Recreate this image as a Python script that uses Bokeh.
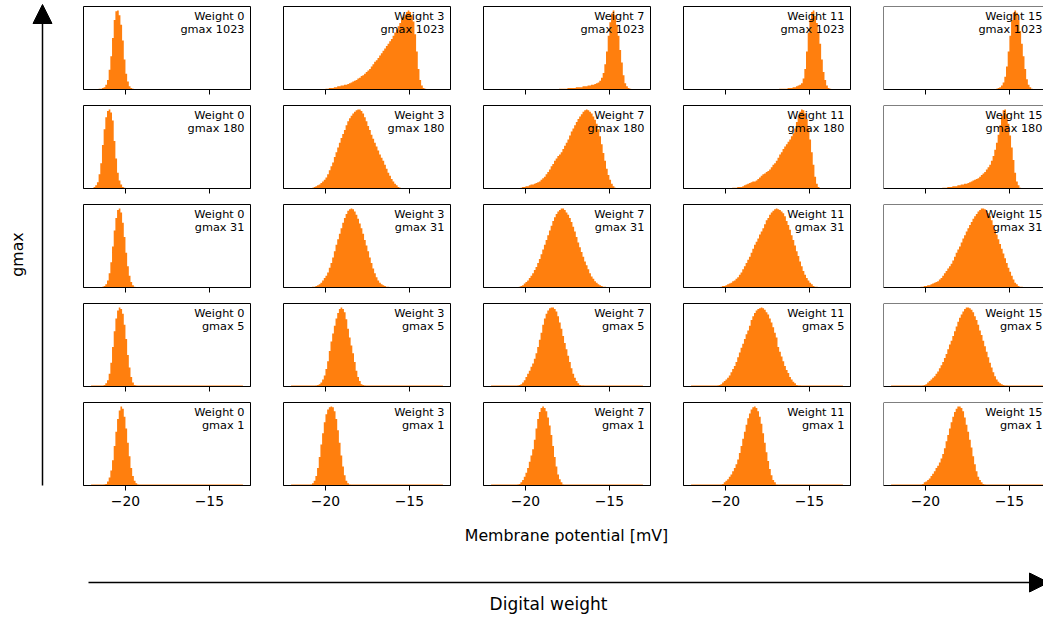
import math

from bokeh.plotting import figure
from bokeh.layouts import row, column
from bokeh.models import (Range1d, FixedTicker, CustomJSTickFormatter, Label,
                          Arrow, NormalHead, Span)
from bokeh.embed import file_html
from bokeh.resources import INLINE

FONT = "DejaVu Sans"
ORANGE = "#ff7f0e"

# ---------------------------------------------------------------- data
weights = [0, 3, 7, 11, 15]
gmax_values = [1023, 180, 31, 5, 1]
tick_values = [-20, -15]
bin_width = 0.1                 # mV
x_limits = (-22.5, -12.55)      # shared membrane-potential axis
sparse_span = (-22.05, -13.0)   # range holding isolated samples (gmax 5 and 1)
sparse_level = 1.2              # their height, relative to the tallest bin (=100)
sparse_gmax = [5, 1]

# left edge of the first bin of each histogram, one list per gmax (by weight)
start_g1023 = [-21.6, -20.0, -18.0, -16.8, -15.8]
start_g180 = [-21.9, -20.8, -20.3, -19.6, -19.0]
start_g31 = [-21.4, -20.8, -20.4, -20.3, -20.3]
start_g5 = [-21.3, -20.6, -20.5, -20.5, -20.2]
start_g1 = [-21.3, -20.9, -20.5, -20.3, -20.3]

# bin counts, normalised to the tallest bin of each histogram
g1023_w0 = [1, 1, 2, 3, 6, 12, 25, 42, 65, 88, 99, 100, 94, 82, 62, 38, 20, 10, 4, 2, 1]
g1023_w3 = [1, 1, 2, 2, 2, 3, 3, 4, 4, 5, 5, 6, 6, 7, 8, 9, 10, 11, 12, 14, 15, 17, 18, 20,
            22, 24, 26, 29, 32, 35, 37, 40, 43, 46, 49, 52, 55, 58, 61, 64, 68, 72, 76, 80,
            84, 88, 92, 95, 98, 100, 98, 94, 86, 70, 48, 26, 12, 5, 2, 1]
g1023_w7 = [1, 1, 1, 1, 1, 2, 2, 2, 2, 2, 3, 3, 3, 3, 4, 4, 4, 5, 5, 6, 6, 7, 8, 9, 11, 15,
            21, 32, 48, 68, 85, 96, 100, 94, 82, 68, 50, 34, 18, 8, 4, 2, 1]
g1023_w11 = [1, 1, 1, 1, 1, 2, 2, 2, 3, 3, 4, 5, 6, 8, 14, 26, 48, 72, 88, 98, 100, 93, 84,
             72, 58, 38, 22, 12, 5, 2, 1]
g1023_w15 = [1, 2, 3, 5, 9, 16, 29, 48, 68, 88, 97, 100, 97, 88, 74, 58, 42, 26, 13, 6, 3, 1]

g180_w0 = [2, 4, 8, 18, 32, 55, 75, 90, 98, 100, 96, 86, 60, 38, 20, 10, 5, 2, 1]
g180_w3 = [1, 2, 3, 4, 5, 7, 9, 11, 14, 18, 23, 28, 33, 40, 46, 52, 58, 64, 69, 74, 80, 85,
           89, 92, 95, 97, 99, 100, 100, 98, 95, 90, 85, 79, 74, 68, 63, 58, 53, 48, 43, 39,
           35, 30, 25, 20, 16, 12, 9, 6, 4, 2, 1]
g180_w7 = [1, 2, 2, 3, 3, 4, 5, 5, 6, 7, 8, 9, 11, 13, 15, 18, 21, 24, 28, 31, 35, 38, 41,
           43, 46, 50, 54, 58, 62, 67, 72, 76, 80, 84, 88, 91, 94, 97, 99, 100, 99, 97, 95,
           91, 87, 82, 75, 66, 56, 45, 35, 25, 17, 11, 6, 3, 1]
g180_w11 = [1, 1, 1, 2, 2, 2, 3, 4, 5, 6, 7, 8, 9, 9, 10, 12, 14, 16, 18, 19, 21, 22, 24, 27,
            30, 32, 35, 39, 43, 46, 50, 53, 56, 59, 62, 66, 70, 76, 84, 92, 97, 100, 99, 95,
            88, 77, 62, 46, 30, 15, 6, 2]
g180_w15 = [1, 1, 1, 2, 2, 2, 3, 3, 3, 4, 4, 5, 5, 6, 6, 7, 8, 9, 10, 11, 12, 13, 15, 17, 19,
            21, 24, 27, 30, 35, 41, 49, 58, 68, 80, 92, 99, 100, 94, 82, 67, 52, 36, 20, 9, 4, 1]

g31_w0 = [1, 2, 4, 9, 18, 32, 52, 72, 88, 98, 100, 95, 82, 64, 44, 27, 15, 7, 3, 1]
g31_w3 = [1, 1, 2, 3, 4, 6, 9, 12, 15, 19, 25, 31, 38, 46, 54, 61, 68, 75, 82, 88, 93, 97, 99,
          100, 99, 96, 92, 87, 81, 75, 68, 60, 53, 46, 38, 31, 24, 18, 13, 9, 6, 4, 3, 2, 1, 1]
g31_w7 = [1, 2, 3, 5, 7, 9, 12, 15, 18, 22, 26, 31, 36, 42, 48, 54, 60, 66, 72, 78, 84, 89, 93,
          96, 98, 100, 100, 98, 95, 92, 88, 83, 77, 71, 64, 57, 51, 45, 39, 33, 28, 23, 18, 14,
          11, 8, 6, 4, 3, 2, 1, 1]
g31_w11 = [1, 2, 2, 3, 4, 5, 6, 8, 9, 11, 13, 16, 19, 23, 27, 31, 35, 39, 44, 49, 54, 58, 62,
           67, 71, 75, 80, 85, 88, 92, 95, 97, 99, 100, 99, 98, 96, 94, 90, 84, 79, 73, 66, 60,
           53, 46, 40, 33, 27, 21, 16, 12, 9, 6, 4, 2, 1, 1]
g31_w15 = [1, 1, 2, 2, 3, 3, 4, 5, 6, 7, 8, 10, 12, 15, 18, 21, 24, 27, 30, 34, 39, 44, 48, 52,
           57, 62, 66, 71, 75, 79, 83, 87, 90, 93, 96, 98, 100, 100, 99, 97, 94, 90, 85, 79, 73,
           67, 61, 55, 49, 43, 37, 31, 25, 20, 15, 10, 6, 4, 2, 1, 1]

g5_w0 = [2, 4, 8, 16, 30, 50, 70, 86, 96, 100, 98, 92, 78, 60, 40, 24, 12, 5, 2, 1]
g5_w3 = [1, 2, 3, 5, 9, 14, 22, 32, 45, 57, 67, 77, 86, 93, 98, 100, 98, 94, 85, 73, 62, 52,
         42, 31, 20, 12, 7, 3, 2, 1]
g5_w7 = [1, 2, 3, 5, 8, 12, 16, 20, 25, 29, 35, 42, 50, 59, 68, 78, 86, 92, 96, 99, 100, 100,
         98, 95, 89, 81, 73, 64, 55, 47, 39, 31, 23, 16, 11, 7, 4, 2, 1, 1]
g5_w11 = [1, 2, 3, 5, 7, 9, 11, 14, 18, 22, 26, 31, 37, 43, 49, 54, 60, 66, 71, 77, 84, 89, 93,
          96, 98, 99, 100, 99, 97, 94, 91, 86, 81, 75, 68, 62, 50, 44, 38, 32, 26, 21, 17, 12,
          9, 6, 4, 2, 1, 1]
g5_w15 = [1, 2, 3, 5, 7, 9, 11, 13, 16, 19, 23, 27, 31, 36, 41, 47, 53, 58, 64, 70, 76, 82, 87,
          91, 95, 98, 100, 100, 99, 97, 94, 89, 84, 78, 71, 65, 58, 51, 44, 37, 30, 24, 18, 13,
          9, 6, 4, 3, 2, 1, 1]

g1_w0 = [1, 2, 5, 10, 19, 32, 50, 68, 84, 95, 100, 97, 87, 72, 54, 37, 22, 12, 6, 3, 1]
g1_w3 = [1, 3, 6, 12, 22, 36, 52, 66, 80, 90, 96, 99, 100, 99, 94, 84, 70, 54, 38, 24, 13, 6,
         3, 1]
g1_w7 = [1, 2, 4, 7, 11, 16, 22, 30, 38, 46, 58, 72, 84, 93, 98, 100, 98, 94, 86, 76, 64, 50,
         36, 24, 14, 8, 4, 1]
g1_w11 = [1, 2, 4, 6, 8, 11, 14, 18, 22, 27, 33, 41, 50, 59, 68, 77, 85, 91, 96, 99, 100, 98,
          94, 87, 78, 66, 54, 42, 31, 21, 13, 7, 4, 1]
g1_w15 = [1, 2, 4, 5, 7, 9, 12, 15, 18, 22, 25, 29, 34, 40, 47, 56, 64, 72, 80, 87, 93, 97, 100,
          100, 98, 94, 86, 77, 68, 58, 48, 37, 27, 18, 11, 7, 4, 2, 1]

starts = {1023: start_g1023, 180: start_g180, 31: start_g31, 5: start_g5, 1: start_g1}
counts = {
    1023: [g1023_w0, g1023_w3, g1023_w7, g1023_w11, g1023_w15],
    180: [g180_w0, g180_w3, g180_w7, g180_w11, g180_w15],
    31: [g31_w0, g31_w3, g31_w7, g31_w11, g31_w15],
    5: [g5_w0, g5_w3, g5_w7, g5_w11, g5_w15],
    1: [g1_w0, g1_w3, g1_w7, g1_w11, g1_w15],
}

# ---------------------------------------------------------------- layout
FRAME_W, FRAME_H = 167, 83
COL_GAP = 33
SIDE_W = 83
PAGE_W, PAGE_H = 1043, 617
LAST_W = PAGE_W - SIDE_W - (len(weights) - 1) * (FRAME_W + COL_GAP)   # right column is cut by the page edge

minus_fmt = CustomJSTickFormatter(code="return (tick < 0 ? '\\u2212' : '') + Math.abs(tick);")
blank_fmt = CustomJSTickFormatter(code="return '';")


def step_outline(first_edge, vals):
    """Closed outline of a bar histogram (bars share edges, baseline at 0)."""
    xs, ys = [first_edge], [0]
    for k, v in enumerate(vals):
        lo = first_edge + k * bin_width
        xs += [lo, lo + bin_width]
        ys += [v, v]
    xs.append(first_edge + len(vals) * bin_width)
    ys.append(0)
    return xs, ys


def panel(gi, wi):
    g, w = gmax_values[gi], weights[wi]
    vals = counts[g][wi]
    y_top = max(vals) * 1.05

    last_col = wi == len(weights) - 1
    last_row = gi == len(gmax_values) - 1
    fw = LAST_W if last_col else FRAME_W
    x_end = x_limits[0] + (x_limits[1] - x_limits[0]) * fw / FRAME_W

    p = figure(frame_width=fw, frame_height=FRAME_H,
               x_range=Range1d(x_limits[0], x_end), y_range=Range1d(0, y_top),
               output_backend="svg", toolbar_location=None,
               min_border_left=0, min_border_right=0 if last_col else COL_GAP,
               min_border_top=6 if gi == 0 else 0,
               min_border_bottom=30 if last_row else 16)
    p.background_fill_color = "white"
    p.border_fill_color = "white"
    p.xgrid.visible = False
    p.ygrid.visible = False
    p.yaxis.visible = False

    ax = p.xaxis[0]
    ax.ticker = FixedTicker(ticks=tick_values)
    ax.formatter = minus_fmt if last_row else blank_fmt
    ax.minor_tick_line_color = None
    ax.major_tick_in = 0
    ax.major_tick_out = 5
    ax.major_tick_line_color = "black"
    ax.axis_line_color = "black"
    ax.major_label_standoff = 5
    ax.major_label_text_font = FONT
    ax.major_label_text_font_size = "13.9px" if last_row else "1px"
    ax.major_label_text_color = "black"

    if g in sparse_gmax:
        p.quad(left=[sparse_span[0]], right=[sparse_span[1]], bottom=[0],
               top=[sparse_level], fill_color=ORANGE, line_color=None)

    xs, ys = step_outline(starts[g][wi], vals)
    p.patch(xs, ys, fill_color=ORANGE, line_color=None)

    if last_col:
        p.outline_line_color = None
        p.add_layout(Span(location=x_limits[0], dimension="height",
                          line_color="black", line_width=1))
        p.add_layout(Span(location=y_top, dimension="width",
                          line_color="black", line_width=1))
        # the column runs past the page edge: keep its caption on the page
        label_x, label_dx = x_end, -1
    else:
        p.outline_line_color = "black"
        p.outline_line_width = 1
        label_x, label_dx = x_limits[1], -6

    p.add_layout(Label(x=label_x, y=y_top, x_offset=label_dx, y_offset=-3,
                       text=f"Weight {w}\ngmax {g}", text_align="right",
                       text_baseline="top", text_font=FONT, text_line_height=1.05,
                       text_font_size="11.3px", text_color="black"))
    return p


grid = column(*[row(*[panel(gi, wi) for wi in range(len(weights))])
                for gi in range(len(gmax_values))])

GRID_H = 6 + 4 * (FRAME_H + 16) + FRAME_H + 30
BOTTOM_H = PAGE_H - GRID_H


def blank(width, height, x_range, y_range):
    f = figure(width=width, height=height, x_range=x_range, y_range=y_range,
               output_backend="svg", toolbar_location=None, min_border=0)
    f.axis.visible = False
    f.xgrid.visible = False
    f.ygrid.visible = False
    f.outline_line_color = None
    return f


# left strip: gmax arrow pointing up
side = blank(SIDE_W, PAGE_H, Range1d(0, SIDE_W), Range1d(0, PAGE_H))
side.add_layout(Arrow(end=NormalHead(size=19, fill_color="black", line_color="black"),
                      x_start=42, y_start=PAGE_H - 485, x_end=42, y_end=PAGE_H - 4,
                      line_color="black", line_width=1.5))
side.add_layout(Label(x=17, y=PAGE_H - 254, text="gmax", angle=math.pi / 2,
                      text_align="center", text_baseline="middle",
                      text_font=FONT, text_font_size="15.8px", text_color="black"))

# bottom strip: shared x label and the digital-weight arrow
bottom = blank(PAGE_W - SIDE_W, BOTTOM_H, Range1d(SIDE_W, PAGE_W), Range1d(0, BOTTOM_H))
bottom.add_layout(Label(x=566, y=PAGE_H - 535, text="Membrane potential [mV]",
                        text_align="center", text_baseline="middle",
                        text_font=FONT, text_font_size="15.8px", text_color="black"))
bottom.add_layout(Arrow(end=NormalHead(size=19, fill_color="black", line_color="black"),
                        x_start=88, y_start=PAGE_H - 582, x_end=1048, y_end=PAGE_H - 582,
                        line_color="black", line_width=1.5))
bottom.add_layout(Label(x=548, y=PAGE_H - 603, text="Digital weight",
                        text_align="center", text_baseline="middle",
                        text_font=FONT, text_font_size="17px", text_color="black"))

layout = row(side, column(grid, bottom))

with open("out.html", "w") as fh:
    fh.write(file_html(layout, INLINE))
